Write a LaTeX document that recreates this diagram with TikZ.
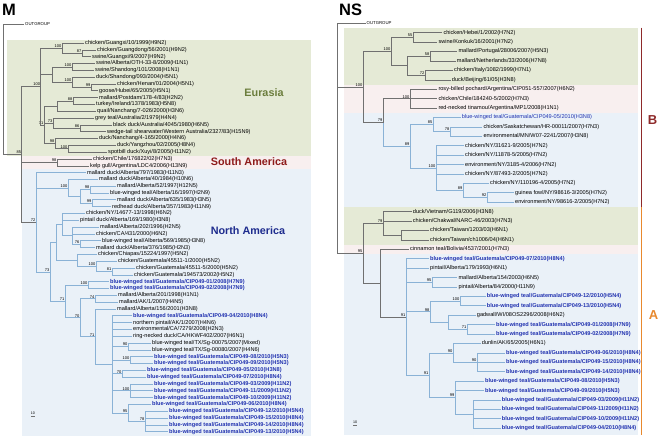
\documentclass[tikz,border=0pt]{standalone}
\usepackage{fontspec}
\setmainfont{Liberation Sans}
\definecolor{bgG}{HTML}{E5EAD6}
\definecolor{bgP}{HTML}{F8EFEF}
\definecolor{bgB}{HTML}{EAF1F8}
\definecolor{lnG}{HTML}{707070}
\definecolor{lnB}{HTML}{8AB2D6}
\definecolor{cip}{HTML}{2233B0}
\definecolor{euT}{HTML}{6B7D3C}
\definecolor{saT}{HTML}{8E1B1B}
\definecolor{naT}{HTML}{1E2C8E}
\definecolor{barB}{HTML}{8E2A2A}
\definecolor{barA}{HTML}{E8892E}
\tikzset{
  lf/.style={anchor=west, inner sep=1pt, font=\fontsize{5.6}{6}\selectfont},
  lfb/.style={lf, font=\fontsize{5.6}{6}\selectfont\bfseries, text=cip},
  lfc/.style={lf, text=cip},
  bs/.style={font=\fontsize{4}{4}\selectfont, inner sep=0.4pt},
  eu/.style={draw=lnG, line width=0.6pt},
  am/.style={draw=lnB, line width=0.7pt},
  grp/.style={font=\fontsize{10.8}{11}\selectfont\bfseries},
  ttl/.style={font=\fontsize{16.5}{17}\selectfont\bfseries, anchor=base west, inner sep=0},
  og/.style={lf, font=\fontsize{4.3}{5}\selectfont},
  sbar/.style={font=\fontsize{3.6}{4}\selectfont, inner sep=0},
}
\begin{document}
\begin{tikzpicture}[x=1pt,y=-1pt]
\useasboundingbox (0,0) rectangle (661,440);
% ---------- backgrounds M
\fill[bgG] (7,39.5) rectangle (311,155.5);
\fill[bgP] (22,155.5) rectangle (311,169.2);
\fill[bgB] (22,169.2) rectangle (311,436);
% ---------- backgrounds NS
\fill[bgG] (344,27.5) rectangle (638,84.5);
\fill[bgP] (344,84.5) rectangle (638,112.8);
\fill[bgB] (344,112.8) rectangle (638,206.9);
\fill[bgG] (344,206.9) rectangle (638,244.6);
\fill[bgP] (344,244.6) rectangle (638,254);
\fill[bgB] (344,254) rectangle (638,435);
\draw[barB, line width=1.4pt] (641.5,27.5) -- (641.5,206.9);
\draw[barA, line width=1.4pt] (641.5,206.9) -- (641.5,435);
\node[font=\fontsize{13}{13}\selectfont\bfseries, text=barB] (tB) at (652.5,120) {B};
\node[font=\fontsize{13}{13}\selectfont\bfseries, text=barA] (tA) at (653.5,315) {A};
% ---------- titles
\node[ttl] (tM) at (2,15) {M};
\node[ttl] (tNS) at (339,15) {NS};
\node[grp, text=euT] (tEu) at (264,93) {Eurasia};
\node[grp, text=saT] (tSA) at (249,161.5) {South America};
\node[grp, text=naT] (tNA) at (248,231) {North America};
% ---------- scale bars
\node[sbar] (sM) at (33,413) {10};
\draw[lnG, line width=0.4pt] (31,416.5) -- (35,416.5);
\node[sbar] (sN) at (355,422) {10};
\draw[lnG, line width=0.4pt] (353,425.5) -- (357,425.5);

% =================== M leaves
\node[og] (mOut) at (24,24) {OUTGROUP};
\node[lf] (m1) at (84,43.0) {chicken/Guangxi/10/1999(H9N2)};
\node[lf] (m2) at (96,49.8) {chicken/Guangdong/56/2001(H9N2)};
\node[lf] (m3) at (91,56.6) {swine/Guangxi/9/2007(H9N2)};
\node[lf] (m4) at (95,63.5) {swine/Alberta/OTH-33-8/2009(H1N1)};
\node[lf] (m5) at (94,70.3) {swine/Shandong/101/2008(H1N1)};
\node[lf] (m6) at (95,77.1) {duck/Shandong/093/2004(H5N1)};
\node[lf] (m7) at (116,83.9) {chicken/Henan/01/2004(H5N1)};
\node[lf] (m8) at (98,90.7) {goose/Hubei/65/2005(H5N1)};
\node[lf] (m9) at (98,97.6) {mallard/Postdam/178-4/83(H2N2)};
\node[lf] (m10) at (95,104.4) {turkey/Ireland/1378/1983(H5N8)};
\node[lf] (m11) at (96,111.2) {quail/Nanchang/7-026/2000(H3N6)};
\node[lf] (m12) at (94,118.0) {grey teal/Australia/2/1979(H4N4)};
\node[lf] (m13) at (112,124.8) {black duck/Australia/4045/1980(H6N5)};
\node[lf] (m14) at (106,131.7) {wedge-tail shearwater/Western Australia/2327/83(H15N9)};
\node[lf] (m15) at (98,138.5) {duck/Nanchang/4-165/2000(H4N6)};
\node[lf] (m16) at (116,145.3) {duck/Yangzhou/02/2005(H8N4)};
\node[lf] (m17) at (107,152.1) {spotbill duck/Xuyi/8/2005(H11N2)};
\node[lf] (m18) at (92,158.9) {chicken/Chile/176822/02(H7N3)};
\node[lf] (m19) at (89,165.8) {kelp gull/Argentina/LDC4/2006(H13N9)};
\node[lf] (m20) at (86,172.6) {mallard duck/Alberta/797/1983(H11N3)};
\node[lf] (m21) at (98,179.4) {mallard duck/Alberta/40/1984(H10N6)};
\node[lf] (m22) at (116,186.2) {mallard/Alberta/52/1997(H12N5)};
\node[lf] (m23) at (109,193.0) {blue-winged teal/Alberta/16/1997(H2N9)};
\node[lf] (m24) at (116,199.8) {mallard duck/Alberta/635/1983(H3N5)};
\node[lf] (m25) at (111,206.7) {redhead duck/Alberta/357/1983(H11N9)};
\node[lf] (m26) at (85,213.5) {chicken/NY/14677-13/1998(H6N2)};
\node[lf] (m27) at (79,220.3) {pintail duck/Alberta/169/1980(H3N8)};
\node[lf] (m28) at (99,227.1) {mallard/Alberta/202/1996(H2N5)};
\node[lf] (m29) at (95,233.9) {chicken/CA/431/2000(H6N2)};
\node[lf] (m30) at (101,240.8) {blue-winged teal/Alberta/569/1985(H3N8)};
\node[lf] (m31) at (95,247.6) {mallard duck/Alberta/376/1985(H2N3)};
\node[lf] (m32) at (97,254.4) {chicken/Chiapas/15224/1997(H5N2)};
\node[lf] (m33) at (117,261.2) {chicken/Guatemala/45511-1/2000(H5N2)};
\node[lf] (m34) at (135,268.0) {chicken/Guatemala/45511-5/2000(H5N2)};
\node[lf] (m35) at (133,274.9) {chicken/Guatemala/194573/2002(H5N2)};
\node[lfb] (m36) at (109,281.7) {blue-winged teal/Guatemala/CIP049-01/2008(H7N9)};
\node[lfb] (m37) at (109,288.5) {blue-winged teal/Guatemala/CIP049-02/2008(H7N9)};
\node[lf] (m38) at (117,295.3) {mallard/Alberta/201/1998(H1N1)};
\node[lf] (m39) at (118,302.1) {mallard/AK/1/2007(H4N5)};
\node[lf] (m40) at (116,309.0) {mallard/Alberta/156/2001(H3N8)};
\node[lfb] (m41) at (132,315.8) {blue-winged teal/Guatemala/CIP049-04/2010(H8N4)};
\node[lf] (m42) at (132,322.6) {northern pintail/AK/1/2007(H4N6)};
\node[lf] (m43) at (132,329.4) {environmental/CA/7279/2008(H2N3)};
\node[lf] (m44) at (132,336.2) {ring-necked duck/CA/HKWF402/2007(H6N1)};
\node[lf] (m45) at (151,343.1) {blue-winged teal/TX/Sg-00075/2007(Mixed)};
\node[lf] (m46) at (151,349.9) {blue-winged teal/TX/Sg-00080/2007(H4N6)};
\node[lfb] (m47) at (153,356.7) {blue-winged teal/Guatemala/CIP049-08/2010(H5N3)};
\node[lfb] (m48) at (153,363.5) {blue-winged teal/Guatemala/CIP049-09/2010(H5N3)};
\node[lfb] (m49) at (146,370.3) {blue-winged teal/Guatemala/CIP049-05/2010(H3N8)};
\node[lfb] (m50) at (146,377.2) {blue-winged teal/Guatemala/CIP049-07/2010(H8N4)};
\node[lfb] (m51) at (153,384.0) {blue-winged teal/Guatemala/CIP049-03/2009(H11N2)};
\node[lfb] (m52) at (153,390.8) {blue-winged teal/Guatemala/CIP049-11/2009(H11N2)};
\node[lfb] (m53) at (153,397.6) {blue-winged teal/Guatemala/CIP049-10/2009(H11N2)};
\node[lfb] (m54) at (151,404.4) {blue-winged teal/Guatemala/CIP049-06/2010(H8N4)};
\node[lfb] (m55) at (168,411.2) {blue-winged teal/Guatemala/CIP049-12/2010(H5N4)};
\node[lfb] (m56) at (168,418.1) {blue-winged teal/Guatemala/CIP049-15/2010(H8N4)};
\node[lfb] (m57) at (168,424.9) {blue-winged teal/Guatemala/CIP049-14/2010(H8N4)};
\node[lfb] (m58) at (168,431.7) {blue-winged teal/Guatemala/CIP049-13/2010(H5N4)};

% =================== M internal nodes
\coordinate (mR) at (3.5,89);
\coordinate[label={[bs]above left:85}] (mI) at (21.7,154.4);
\coordinate[label={[bs]above left:100}] (mE) at (40.7,86.5);
\coordinate[label={[bs]above left:100}] (mG1) at (62,48.1);
\coordinate[label={[bs]above left:87}] (mG1b) at (82,53.2);
\coordinate (mE1) at (52,74.6);
\coordinate[label={[bs]above left:100}] (mH1) at (72,66.9);
\coordinate[label={[bs]above left:100}] (mH5) at (72,82.2);
\coordinate[label={[bs]above left:99}] (mH5b) at (91,87.3);
\coordinate[label={[bs]above left:71}] (m71) at (44,124.9);
\coordinate (mQ) at (57,106.1);
\coordinate[label={[bs]above left:88}] (mQ88) at (73,101.0);
\coordinate[label={[bs]above left:73}] (m73) at (53,123.1);
\coordinate[label={[bs]above left:86}] (m86) at (80,128.3);
\coordinate[label={[bs]above left:98}] (m98) at (55,143.6);
\coordinate[label={[bs]above left:100}] (mY100) at (68,148.7);
\coordinate[label={[bs]above left:98}] (mSA) at (57,162.4);
\coordinate[label={[bs]above left:72}] (mA) at (36,222.3);
\coordinate[label={[bs]above left:100}] (mB100) at (68,187.9);
\coordinate (mB2) at (80,196.4);
\coordinate[label={[bs]above left:98}] (mB98) at (90,189.6);
\coordinate[label={[bs]above left:99}] (mB99) at (92,203.3);
\coordinate[label={[bs]above left:73}] (m73a) at (50,272.0);
\coordinate (mNA2) at (56,242.5);
\coordinate (mP) at (62,224.6);
\coordinate (mQ2) at (72,235.7);
\coordinate[label={[bs]above left:76}] (m76) at (80,244.2);
\coordinate (mCh) at (77,260.4);
\coordinate[label={[bs]above left:100}] (mC100) at (96,266.3);
\coordinate[label={[bs]above left:81}] (m81) at (112,271.5);
\coordinate[label={[bs]above left:71}] (m71a) at (65,301.4);
\coordinate[label={[bs]above left:100}] (mCIP) at (88,285.1);
\coordinate[label={[bs]above left:70}] (m70) at (80,317.7);
\coordinate[label={[bs]above left:74}] (m74) at (95,298.7);
\coordinate[label={[bs]above left:71}] (m71b) at (95,336.7);
\coordinate (mBig) at (112,364.4);
\coordinate[label={[bs]above left:90}] (m90) at (128,346.5);
\coordinate[label={[bs]above left:100}] (m100a) at (130,360.1);
\coordinate[label={[bs]above left:70}] (m70b) at (122,373.8);
\coordinate[label={[bs]above left:100}] (m100b) at (130,390.8);
\coordinate[label={[bs]above left:95}] (m95) at (128,413.0);
\coordinate[label={[bs]above left:78}] (m78) at (145,421.5);

% =================== M edges
\draw[eu] (mR) |- (mOut);
\draw[eu] (mR) |- (mI);
\foreach \c in {mE,mSA,mA} \draw[eu] (mI) |- (\c);
\foreach \c in {mG1,mE1,m71} \draw[eu] (mE) |- (\c);
\foreach \c in {m1,mG1b} \draw[eu] (mG1) |- (\c);
\foreach \c in {m2,m3} \draw[eu] (mG1b) |- (\c);
\foreach \c in {mH1,mH5} \draw[eu] (mE1) |- (\c);
\foreach \c in {m4,m5} \draw[eu] (mH1) |- (\c);
\foreach \c in {m6,mH5b} \draw[eu] (mH5) |- (\c);
\foreach \c in {m7,m8} \draw[eu] (mH5b) |- (\c);
\foreach \c in {mQ,m73,m98} \draw[eu] (m71) |- (\c);
\foreach \c in {mQ88,m11} \draw[eu] (mQ) |- (\c);
\foreach \c in {m9,m10} \draw[eu] (mQ88) |- (\c);
\foreach \c in {m12,m86} \draw[eu] (m73) |- (\c);
\foreach \c in {m13,m14} \draw[eu] (m86) |- (\c);
\foreach \c in {m15,mY100} \draw[eu] (m98) |- (\c);
\foreach \c in {m16,m17} \draw[eu] (mY100) |- (\c);
\foreach \c in {m18,m19} \draw[eu] (mSA) |- (\c);
\foreach \c in {m20,mB100,m73a} \draw[am] (mA) |- (\c);
\foreach \c in {m21,mB2} \draw[am] (mB100) |- (\c);
\foreach \c in {mB98,mB99} \draw[am] (mB2) |- (\c);
\foreach \c in {m22,m23} \draw[am] (mB98) |- (\c);
\foreach \c in {m24,m25} \draw[am] (mB99) |- (\c);
\foreach \c in {mNA2,m71a} \draw[am] (m73a) |- (\c);
\foreach \c in {mP,mCh} \draw[am] (mNA2) |- (\c);
\foreach \c in {m26,m27,mQ2} \draw[am] (mP) |- (\c);
\foreach \c in {m28,m29,m76} \draw[am] (mQ2) |- (\c);
\foreach \c in {m30,m31} \draw[am] (m76) |- (\c);
\foreach \c in {m32,mC100} \draw[am] (mCh) |- (\c);
\foreach \c in {m33,m81} \draw[am] (mC100) |- (\c);
\foreach \c in {m34,m35} \draw[am] (m81) |- (\c);
\foreach \c in {mCIP,m70} \draw[am] (m71a) |- (\c);
\foreach \c in {m36,m37} \draw[am] (mCIP) |- (\c);
\foreach \c in {m74,m71b} \draw[am] (m70) |- (\c);
\foreach \c in {m38,m39} \draw[am] (m74) |- (\c);
\foreach \c in {m40,mBig} \draw[am] (m71b) |- (\c);
\foreach \c in {m41,m42,m43,m44,m90,m100a,m70b,m100b,m95} \draw[am] (mBig) |- (\c);
\foreach \c in {m45,m46} \draw[am] (m90) |- (\c);
\foreach \c in {m47,m48} \draw[am] (m100a) |- (\c);
\foreach \c in {m49,m50} \draw[am] (m70b) |- (\c);
\foreach \c in {m51,m52,m53} \draw[am] (m100b) |- (\c);
\foreach \c in {m54,m78} \draw[am] (m95) |- (\c);
\foreach \c in {m55,m56,m57,m58} \draw[am] (m78) |- (\c);

% =================== NS leaves
\node[og] (nOut) at (365.5,23.3) {OUTGROUP};
\node[lf] (n1) at (442.3,32.7) {chicken/Hebei/1/2002(H7N2)};
\node[lf] (n2) at (437.3,42.1) {swine/Konkuk/16/2001(H7N2)};
\node[lf] (n3) at (457.3,51.5) {mallard/Portugal/28006/2007(H5N3)};
\node[lf] (n4) at (455.7,61.0) {mallard/Netherlands/33/2006(H7N8)};
\node[lf] (n5) at (453,70.4) {chicken/Italy/1082/1999(H7N1)};
\node[lf] (n6) at (450.7,79.8) {duck/Beijing/61/05(H3N8)};
\node[lf] (n7) at (437.3,89.2) {rosy-billed pochard/Argentina/CIP051-557/2007(H6N2)};
\node[lf] (n8) at (437.3,98.6) {chicken/Chile/184240-5/2002(H7N3)};
\node[lf] (n9) at (437.3,108.1) {red-necked tinamou/Argentina/MP1/2008(H1N1)};
\node[lfc] (n10) at (460.7,117.5) {blue-winged teal/Guatemala/CIP049-05/2010(H3N8)};
\node[lf] (n11) at (482.3,126.9) {chicken/Saskatchewan/HR-00011/2007(H7N3)};
\node[lf] (n12) at (482.3,136.3) {environmental/MN/W07-2241/2007(H3N8)};
\node[lf] (n13) at (464,145.7) {chicken/NY/31621-9/2005(H7N2)};
\node[lf] (n14) at (464,155.1) {chicken/NY/11878-5/2005(H7N2)};
\node[lf] (n15) at (464,164.6) {environment/NY/3185-4/2006(H7N2)};
\node[lf] (n16) at (464,174.0) {chicken/NY/87493-2/2005(H7N2)};
\node[lf] (n17) at (489,183.4) {chicken/NY/110196-4/2005(H7N2)};
\node[lf] (n18) at (514,192.8) {guinea fowl/NY/98616-3/2005(H7N2)};
\node[lf] (n19) at (514,202.2) {environment/NY/98616-2/2005(H7N2)};
\node[lf] (n20) at (411.7,211.6) {duck/Vietnam/G119/2006(H3N8)};
\node[lf] (n21) at (411.7,221.1) {chicken/Chakwal/NARC-46/2003(H7N3)};
\node[lf] (n22) at (429,230.5) {chicken/Taiwan/1203/03(H6N1)};
\node[lf] (n23) at (429,239.9) {chicken/Taiwan/ch1006/04(H6N1)};
\node[lf] (n24) at (409,249.3) {cinnamon teal/Bolivia/4537/2001(H7N3)};
\node[lfb] (n25) at (429,258.7) {blue-winged teal/Guatemala/CIP049-07/2010(H8N4)};
\node[lf] (n26) at (429,268.1) {pintail/Alberta/179/1993(H6N1)};
\node[lf] (n27) at (457.3,277.6) {mallard/Alberta/154/2003(H6N5)};
\node[lf] (n28) at (457.3,287.0) {pintail/Alberta/84/2000(H11N9)};
\node[lfb] (n29) at (485.7,296.4) {blue-winged teal/Guatemala/CIP049-12/2010(H5N4)};
\node[lfb] (n30) at (485.7,305.8) {blue-winged teal/Guatemala/CIP049-13/2010(H5N4)};
\node[lf] (n31) at (475.7,315.2) {gadwall/WI/08OS2296/2008(H6N2)};
\node[lfb] (n32) at (495,324.6) {blue-winged teal/Guatemala/CIP049-01/2008(H7N9)};
\node[lfb] (n33) at (495,334.1) {blue-winged teal/Guatemala/CIP049-02/2008(H7N9)};
\node[lf] (n34) at (480.7,343.5) {dunlin/AK/65/2005(H6N1)};
\node[lfb] (n35) at (505,352.9) {blue-winged teal/Guatemala/CIP049-06/2010(H8N4)};
\node[lfb] (n36) at (505,362.3) {blue-winged teal/Guatemala/CIP049-15/2010(H8N4)};
\node[lfb] (n37) at (505,371.7) {blue-winged teal/Guatemala/CIP049-14/2010(H8N4)};
\node[lfb] (n38) at (484,381.1) {blue-winged teal/Guatemala/CIP049-08/2010(H5N3)};
\node[lfb] (n39) at (484,390.6) {blue-winged teal/Guatemala/CIP049-09/2010(H5N3)};
\node[lfb] (n40) at (500.7,400.0) {blue-winged teal/Guatemala/CIP049-03/2009(H11N2)};
\node[lfb] (n41) at (500.7,409.4) {blue-winged teal/Guatemala/CIP049-11/2009(H11N2)};
\node[lfb] (n42) at (500.7,418.8) {blue-winged teal/Guatemala/CIP049-10/2009(H11N2)};
\node[lfb] (n43) at (500.7,428.2) {blue-winged teal/Guatemala/CIP049-04/2010(H8N4)};

% =================== NS internal nodes
\coordinate (nR) at (337,138.3);
\coordinate[label={[bs]above left:100}] (nB) at (363,87.0);
\coordinate[label={[bs]above left:100}] (nE) at (391,51.5);
\coordinate[label={[bs]above left:55}] (n55) at (413,37.4);
\coordinate (nE2) at (407,65.7);
\coordinate[label={[bs]above left:58}] (n58) at (430,56.25);
\coordinate[label={[bs]above left:72}] (n72) at (425,75.1);
\coordinate[label={[bs]above left:79}] (n79) at (383,122.5);
\coordinate[label={[bs]above left:100}] (nSA) at (410,98.65);
\coordinate[label={[bs]above left:89}] (n89) at (410,146.3);
\coordinate[label={[bs]above left:85}] (n85) at (433,124.55);
\coordinate[label={[bs]above left:78}] (n78) at (450,131.6);
\coordinate[label={[bs]above left:100}] (n100) at (436,168.1);
\coordinate[label={[bs]above left:89}] (n89b) at (463,190.45);
\coordinate[label={[bs]above left:92}] (n92) at (487,197.5);
\coordinate[label={[bs]above left:95}] (n95) at (363,253.3);
\coordinate[label={[bs]above left:79}] (n79g) at (383,223.4);
\coordinate (nTw) at (401,235.2);
\coordinate (nA) at (380,283.15);
\coordinate[label={[bs]above left:91}] (n91) at (406,317.0);
\coordinate[label={[bs]above left:95}] (n95a) at (432,282.3);
\coordinate[label={[bs]above left:98}] (n98) at (430,311.7);
\coordinate[label={[bs]above left:100}] (n100p) at (460,301.1);
\coordinate (nX) at (448,322.3);
\coordinate[label={[bs]above left:71}] (n71) at (467,329.35);
\coordinate[label={[bs]above left:91}] (n91b) at (429,375.25);
\coordinate[label={[bs]above left:90}] (n90) at (453,352.9);
\coordinate[label={[bs]above left:90}] (n90b) at (477,362.3);
\coordinate[label={[bs]above left:99}] (n99) at (455,397.6);
\coordinate (nY) at (473,414.1);

% =================== NS edges
\foreach \c in {nOut,nB,n95} \draw[eu] (nR) |- (\c);
\foreach \c in {nE,n79} \draw[eu] (nB) |- (\c);
\foreach \c in {n55,nE2} \draw[eu] (nE) |- (\c);
\foreach \c in {n1,n2} \draw[eu] (n55) |- (\c);
\foreach \c in {n58,n72} \draw[eu] (nE2) |- (\c);
\foreach \c in {n3,n4} \draw[eu] (n58) |- (\c);
\foreach \c in {n5,n6} \draw[eu] (n72) |- (\c);
\draw[eu] (n79) |- (nSA);
\foreach \c in {n7,n8,n9} \draw[eu] (nSA) |- (\c);
\draw[am] (n79) |- (n89);
\foreach \c in {n85,n100} \draw[am] (n89) |- (\c);
\foreach \c in {n10,n78} \draw[am] (n85) |- (\c);
\foreach \c in {n11,n12} \draw[am] (n78) |- (\c);
\foreach \c in {n13,n14,n15,n16,n89b} \draw[am] (n100) |- (\c);
\foreach \c in {n17,n92} \draw[am] (n89b) |- (\c);
\foreach \c in {n18,n19} \draw[am] (n92) |- (\c);
\foreach \c in {n79g,nA} \draw[eu] (n95) |- (\c);
\foreach \c in {n20,n21,nTw} \draw[eu] (n79g) |- (\c);
\foreach \c in {n22,n23} \draw[eu] (nTw) |- (\c);
\foreach \c in {n24,n91} \draw[eu] (nA) |- (\c);
\foreach \c in {n25,n26,n95a,n98,n91b} \draw[am] (n91) |- (\c);
\foreach \c in {n27,n28} \draw[am] (n95a) |- (\c);
\foreach \c in {n100p,nX} \draw[am] (n98) |- (\c);
\foreach \c in {n29,n30} \draw[am] (n100p) |- (\c);
\foreach \c in {n31,n71} \draw[am] (nX) |- (\c);
\foreach \c in {n32,n33} \draw[am] (n71) |- (\c);
\foreach \c in {n90,n99} \draw[am] (n91b) |- (\c);
\foreach \c in {n34,n90b} \draw[am] (n90) |- (\c);
\foreach \c in {n35,n36,n37} \draw[am] (n90b) |- (\c);
\foreach \c in {n38,n39,nY} \draw[am] (n99) |- (\c);
\foreach \c in {n40,n41,n42,n43} \draw[am] (nY) |- (\c);
\end{tikzpicture}
\end{document}
